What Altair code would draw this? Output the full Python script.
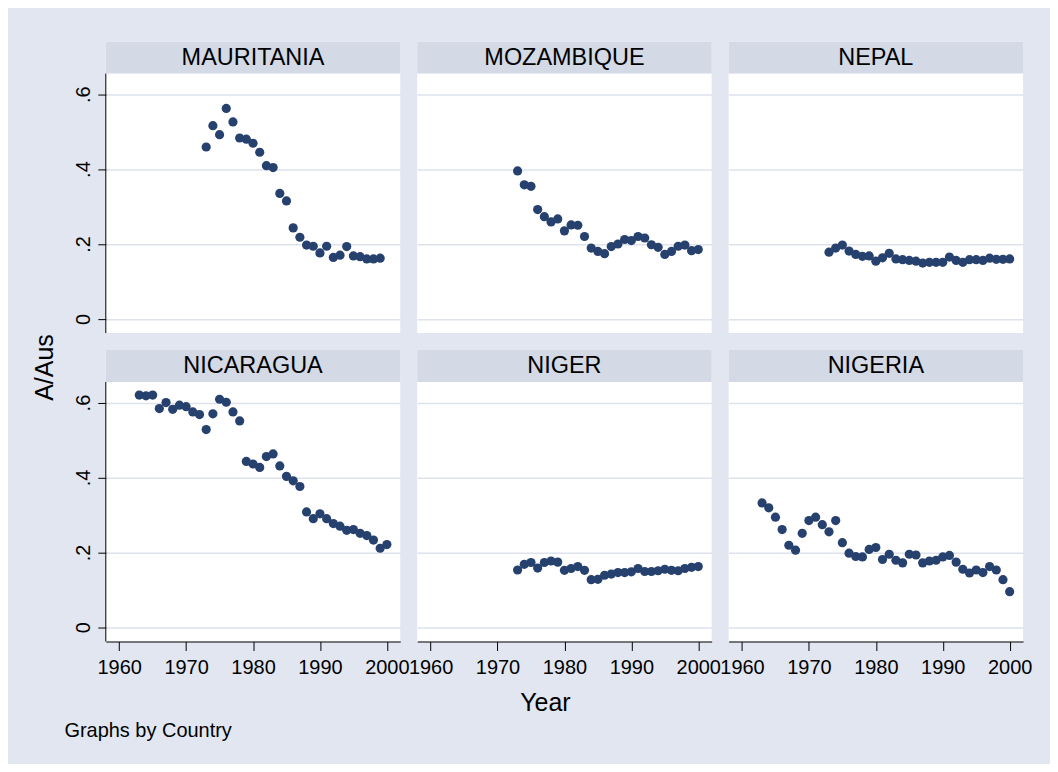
import altair as alt
import pandas as pd

FONT = "Liberation Sans"
BG = "#E1E6F0"
HEADER_BG = "#D3D9E5"
GRID = "#DDE2EC"
NAVY = "#27416F"

W, H, HH = 295, 260, 32

countries = ["MAURITANIA", "MOZAMBIQUE", "NEPAL", "NICARAGUA", "NIGER", "NIGERIA"]
start_years = [1973, 1973, 1973, 1963, 1973, 1963]

mauritania = [0.459, 0.516, 0.492, 0.562, 0.526, 0.483, 0.480, 0.469, 0.445, 0.409,
              0.404, 0.335, 0.315, 0.243, 0.218, 0.197, 0.194, 0.176, 0.194, 0.164,
              0.170, 0.193, 0.168, 0.166, 0.160, 0.160, 0.162]
mozambique = [0.395, 0.358, 0.354, 0.292, 0.273, 0.259, 0.267, 0.235, 0.251, 0.250,
              0.220, 0.189, 0.180, 0.174, 0.193, 0.200, 0.212, 0.209, 0.220, 0.216,
              0.198, 0.191, 0.172, 0.180, 0.194, 0.197, 0.182, 0.185]
nepal = [0.178, 0.189, 0.197, 0.181, 0.172, 0.167, 0.168, 0.154, 0.163, 0.175,
         0.160, 0.158, 0.156, 0.154, 0.149, 0.151, 0.151, 0.151, 0.165, 0.156,
         0.151, 0.158, 0.158, 0.156, 0.162, 0.159, 0.159, 0.160]
nicaragua = [0.620, 0.618, 0.620, 0.584, 0.600, 0.582, 0.593, 0.589, 0.575, 0.568,
             0.528, 0.570, 0.609, 0.601, 0.575, 0.551, 0.443, 0.436, 0.427, 0.456,
             0.463, 0.431, 0.403, 0.391, 0.376, 0.308, 0.290, 0.303, 0.290, 0.277,
             0.270, 0.259, 0.261, 0.251, 0.245, 0.233, 0.211, 0.221]
niger = [0.153, 0.168, 0.173, 0.158, 0.173, 0.177, 0.174, 0.152, 0.157, 0.162,
         0.152, 0.127, 0.128, 0.139, 0.142, 0.146, 0.146, 0.148, 0.157, 0.149,
         0.149, 0.151, 0.155, 0.152, 0.151, 0.157, 0.160, 0.162]
nigeria = [0.332, 0.319, 0.294, 0.261, 0.219, 0.206, 0.251, 0.285, 0.294, 0.274,
           0.255, 0.285, 0.226, 0.198, 0.189, 0.188, 0.208, 0.213, 0.181, 0.195,
           0.179, 0.172, 0.195, 0.193, 0.172, 0.177, 0.179, 0.188, 0.192, 0.174,
           0.155, 0.145, 0.153, 0.146, 0.162, 0.153, 0.127, 0.095]

series = [mauritania, mozambique, nepal, nicaragua, niger, nigeria]

x_ticks = [1960, 1970, 1980, 1990, 2000]
y_ticks = [0, 0.2, 0.4, 0.6]

records = []
for country, start, vals in zip(countries, start_years, series):
    for i, v in enumerate(vals):
        records.append({"country": country, "year": start + i, "value": v})
df = pd.DataFrame(records)

Y_MIN, Y_PLOT_TOP = -0.038, 0.655
Y_TOP = Y_PLOT_TOP + HH * (Y_PLOT_TOP - Y_MIN) / H  # header strip sits above plot area

x_scale = alt.Scale(domain=[1958, 2002], nice=False, zero=False)
y_scale = alt.Scale(domain=[Y_MIN, Y_TOP], nice=False, zero=False)


def make_panel(idx, country):
    r, c = divmod(idx, 3)
    is_left = c == 0
    is_bottom = r == 1

    label_data = alt.Data(values=[{"country": country}])
    strip = alt.Chart(label_data).mark_rect(color=HEADER_BG, opacity=1).encode(
        x=alt.value(0), x2=alt.value(W), y=alt.value(0), y2=alt.value(HH)
    )
    strip_text = alt.Chart(label_data).mark_text(
        font=FONT, fontSize=23.5, color="black", baseline="alphabetic", align="center"
    ).encode(text="country:N", x=alt.value(W / 2), y=alt.value(23))

    grid_opts = dict(values=y_ticks, grid=True, gridColor=GRID, gridWidth=1.5, domain=False)
    if is_left:
        if is_bottom:
            yextra = dict(title="A/Aus", titleX=-53, titleY=17, titleAngle=270,
                          titleAlign="center", titleBaseline="alphabetic",
                          titleFont=FONT, titleFontSize=25, titleFontWeight="normal",
                          titleColor="black")
        else:
            yextra = dict(title=None)
        y_axis = alt.Axis(
            **grid_opts,
            labelExpr="datum.value == 0 ? '0' : replace(format(datum.value, '.1f'), '0.', '.')",
            labelAngle=270, labelAlign="center", labelBaseline="alphabetic",
            labelPadding=8, labelFont=FONT, labelFontSize=20, labelColor="black",
            tickSize=8, tickColor="black", tickWidth=1, **yextra)
    else:
        y_axis = alt.Axis(**grid_opts, labels=False, ticks=False, title=None)

    if is_bottom:
        if c == 0:
            xextra = dict(title="Graphs by Country", titleX=-42, titleY=95,
                          titleAlign="left", titleAnchor="start", titleBaseline="alphabetic",
                          titleFont=FONT, titleFontSize=20, titleFontWeight="normal",
                          titleColor="black")
        elif c == 1:
            xextra = dict(title="Year", titleX=128, titleY=69,
                          titleAlign="center", titleBaseline="alphabetic",
                          titleFont=FONT, titleFontSize=25, titleFontWeight="normal",
                          titleColor="black")
        else:
            xextra = dict(title=None)
        x_enc = alt.X("year:Q", scale=x_scale, axis=alt.Axis(
            values=x_ticks, format="d", grid=False, labelFont=FONT, labelFontSize=20,
            labelColor="black", labelPadding=7, labelOverlap=False, labelFlush=False,
            labelBound=False, tickSize=9, tickColor="black", tickWidth=1,
            domainColor="black", domainWidth=1, **xextra))
    else:
        x_enc = alt.X("year:Q", scale=x_scale, axis=None)

    points = alt.Chart(df).transform_filter(
        alt.datum.country == country
    ).mark_circle(size=85, color=NAVY, opacity=1).encode(
        x=x_enc,
        y=alt.Y("value:Q", scale=y_scale, axis=y_axis),
    )

    layers = [points, strip, strip_text]
    if is_left:
        yaxis_line = alt.Chart(label_data).mark_rule(color="black", strokeWidth=1).encode(
            x=alt.value(0), y=alt.datum(Y_MIN), y2=alt.datum(Y_PLOT_TOP)
        )
        layers.append(yaxis_line)

    return alt.layer(*layers).properties(
        width=W, height=HH + H, view=alt.ViewBackground(fill="white", stroke=None)
    )


panels = [make_panel(i, c) for i, c in enumerate(countries)]

chart = alt.concat(*panels, columns=3, spacing=17, bounds="flush").properties(
    background=BG,
    padding={"left": 25, "top": 33, "right": 18, "bottom": 23},
).configure_view(stroke=None)

chart.save("out.html", embed_options={"renderer": "svg", "actions": False})
